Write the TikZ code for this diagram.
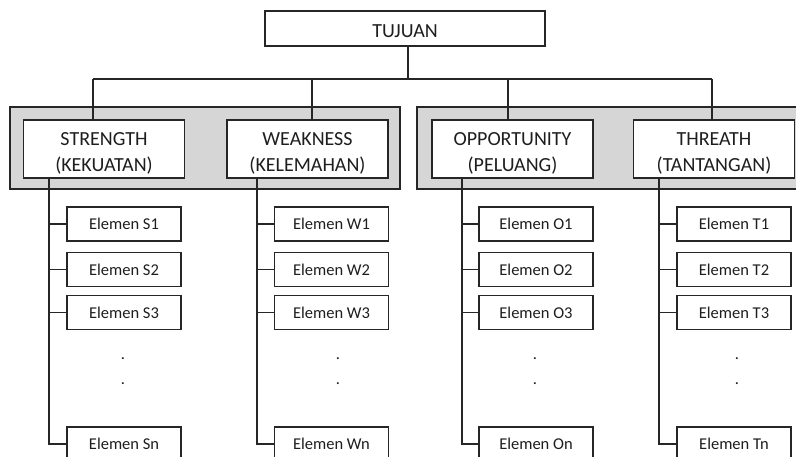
\documentclass[tikz,border=0pt]{standalone}
\usepackage{fontspec}
\setmainfont{Carlito}
\definecolor{linecol}{HTML}{262626}
\definecolor{textcol}{HTML}{1E1E1E}
\definecolor{groupfill}{HTML}{D6D6D6}
\begin{document}
\begin{tikzpicture}[x=1pt,y=-1pt,line width=1.3pt,
  topbox/.style={draw=linecol,fill=white,minimum width=280pt,minimum height=35pt,inner sep=0pt},
  toptext/.style={inner sep=0pt,text=textcol,font=\fontsize{20}{24}\selectfont},
  groupbox/.style={draw=linecol,fill=groupfill,inner sep=0pt},
  headbox/.style={draw=linecol,fill=white,minimum width=161pt,minimum height=58pt,inner sep=0pt},
  headtext/.style={inner sep=0pt,align=center,text=textcol,font=\fontsize{20}{26}\selectfont},
  elembox/.style={draw=linecol,fill=white,minimum width=114pt,minimum height=34pt,inner sep=0pt,text=textcol,font=\fontsize{16.5}{20}\selectfont},
  dotnode/.style={inner sep=0pt,text=textcol,font=\fontsize{16.5}{20}\selectfont},
  link/.style={draw=linecol}]
\clip (0,0) rectangle (796,457);
\useasboundingbox (0,0) rectangle (796,457);
% group backgrounds
\node[groupbox,minimum width=390pt,minimum height=82pt] (g1) at (205,148) {};
\node[groupbox,minimum width=382pt,minimum height=82pt] (g2) at (608,148) {};
% top
\node[topbox] (top) at (405,28.5) {};
\node[toptext] (toplabel) at (405,31) {TUJUAN};
\coordinate (bus) at (408,79);
\draw[link] (top.south -| bus) -- (bus);
\coordinate (busL) at (93,79);
\coordinate (busR) at (712,79);
\draw[link] (busL) -- (busR);
% columns: name, header x, spine x, element x, drop x, title, subtitle, dots x
\foreach \n/\hx/\sx/\ex/\dx/\ta/\tb/\ox in {
  S/104/49/124/93/STRENGTH/KEKUATAN/123,
  W/307.5/257/331.5/312/WEAKNESS/KELEMAHAN/338,
  O/512.5/462/536/508/OPPORTUNITY/PELUANG/535,
  T/714/659/734/712/THREATH/TANTANGAN/737}{
  \node[headbox] (h\n) at (\hx,149) {};
  \node[headtext] (ht\n) at (\hx,153.5) {\ta\\(\tb)};
  \coordinate (d\n) at (\dx,79);
  \draw[link] (d\n) -- (d\n |- h\n.north);
  \coordinate (s\n) at (\sx,178);
  \node[elembox] (e\n1) at (\ex,224) {Elemen \n1};
  \node[elembox] (e\n2) at (\ex,269.5) {Elemen \n2};
  \node[elembox] (e\n3) at (\ex,312.5) {Elemen \n3};
  \node[elembox] (e\n n) at (\ex,444) {Elemen \n n};
  \node[dotnode] (da\n) at (\ox,359) {.};
  \node[dotnode] (db\n) at (\ox,384) {.};
  \draw[link] (s\n) |- (e\n n.west);
  \draw[link] (s\n |- e\n1.west) -- (e\n1.west);
  \draw[link] (s\n |- e\n2.west) -- (e\n2.west);
  \draw[link] (s\n |- e\n3.west) -- (e\n3.west);
}
\end{tikzpicture}
\end{document}
